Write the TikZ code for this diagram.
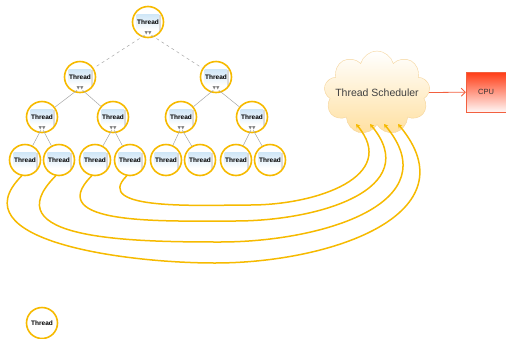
\documentclass[tikz,border=0pt]{standalone}
\usepackage{fontspec}
\setmainfont{Liberation Sans}
\newfontfamily\symfont{DejaVu Sans}
\usetikzlibrary{arrows.meta,shapes.symbols}
\definecolor{ring}{HTML}{F6BA00}
\definecolor{paleblue}{HTML}{CFE6F7}
\definecolor{cloudline}{HTML}{F5D49A}
\definecolor{cloudfill}{HTML}{FFE0A0}
\definecolor{cpured}{HTML}{FF3B14}
\definecolor{cpuline}{HTML}{F2603F}

\begin{document}
\begin{tikzpicture}[x=1pt, y=1pt,
	thread/.style={circle, draw=ring, line width=1.6pt, fill=white, minimum size=31pt, inner sep=0pt, font=\fontsize{6.5}{6.5}\selectfont\bfseries,
		path picture={
			\fill[black!15] ([xshift=-10pt,yshift=-9pt]path picture bounding box.center) rectangle ([xshift=12.5pt,yshift=7pt]path picture bounding box.center);
			\shade[top color=paleblue, bottom color=white] ([xshift=-11.5pt,yshift=-8pt]path picture bounding box.center) rectangle ([xshift=11pt,yshift=8pt]path picture bounding box.center);}},
	legend/.style={circle, draw=ring, line width=1.6pt, fill=white, minimum size=31pt, inner sep=0pt, font=\fontsize{6.5}{6.5}\selectfont\bfseries},
	twin/.style={inner sep=0.3pt, text=gray, font=\symfont\fontsize{4.5}{4.5}\selectfont},
	link/.style={draw=gray!70, line width=0.5pt},
	toplink/.style={link, dashed},
	feed/.style={draw=ring, line width=1.5pt, -{Stealth[length=4pt,width=4.5pt]}}]
	\useasboundingbox (0,0) rectangle (506,-338);

	% tree of threads
	\node[thread] (r) at (148,-22) {Thread};
	\node[thread] (a) at (80,-77) {Thread};
	\node[thread] (b) at (216,-77) {Thread};
	\foreach \x [count=\i] in {42,113,181,252}
		\node[thread] (c\i) at (\x,-117) {Thread};
	\foreach \x [count=\i] in {25,59,95,130,166,200,236,270}
		\node[thread] (l\i) at (\x,-160) {Thread};
	\foreach \n in {r,a,b,c1,c2,c3,c4}
		\node[twin] (\n m) at ([yshift=-11pt]\n.center) {▼▼};

	\draw[toplink] (rm) -- (a);
	\draw[toplink] (rm) -- (b);
	\draw[link] (am) -- (c1);
	\draw[link] (am) -- (c2);
	\draw[link] (bm) -- (c3);
	\draw[link] (bm) -- (c4);
	\foreach \p/\u/\v in {c1/l1/l2, c2/l3/l4, c3/l5/l6, c4/l7/l8} {
		\draw[link] (\p m) -- (\u);
		\draw[link] (\p m) -- (\v);
	}

	% scheduler and cpu
	\node[cloud, cloud puffs=9, aspect=1.3, draw=cloudline, top color=white, bottom color=cloudfill, minimum width=106pt, minimum height=84pt,
		label={[font=\fontsize{10.5}{12}\selectfont, text=black!75]center:Thread Scheduler}] (sched) at (377,-93) {};
	\node[draw=cpuline, top color=cpured, bottom color=cpured!4, minimum width=40pt, minimum height=40pt, font=\fontsize{7.5}{7.5}\selectfont, text=black!80] (cpu) at (486,-92) {CPU};
	\draw[cpuline, line width=0.8pt, -{Straight Barb[length=4pt,width=8pt]}] (sched) -- (cpu);

	\coordinate (e1) at (398,-124);
	\coordinate (e2) at (384,-124);
	\coordinate (e3) at (370,-124);
	\coordinate (e4) at (356,-124);
	\draw[feed] (l1.258) to[out=225, in=180, looseness=1.1] (215,-263) to[out=0, in=-50, looseness=1.3] (e1);
	\draw[feed] (l2.258) to[out=225, in=180, looseness=1.3] (220,-242) to[out=0, in=-50, looseness=1.3] (e2);
	\draw[feed] (l3.258) to[out=225, in=180, looseness=1.2] (235,-221) to[out=0, in=-50, looseness=1.3] (e3);
	\draw[feed] (l4.258) to[out=225, in=180, looseness=1.0] (250,-205) to[out=0, in=-50, looseness=1.3] (e4);

	% key
	\node[legend] (key) at (42,-323) {Thread};
\end{tikzpicture}
\end{document}
